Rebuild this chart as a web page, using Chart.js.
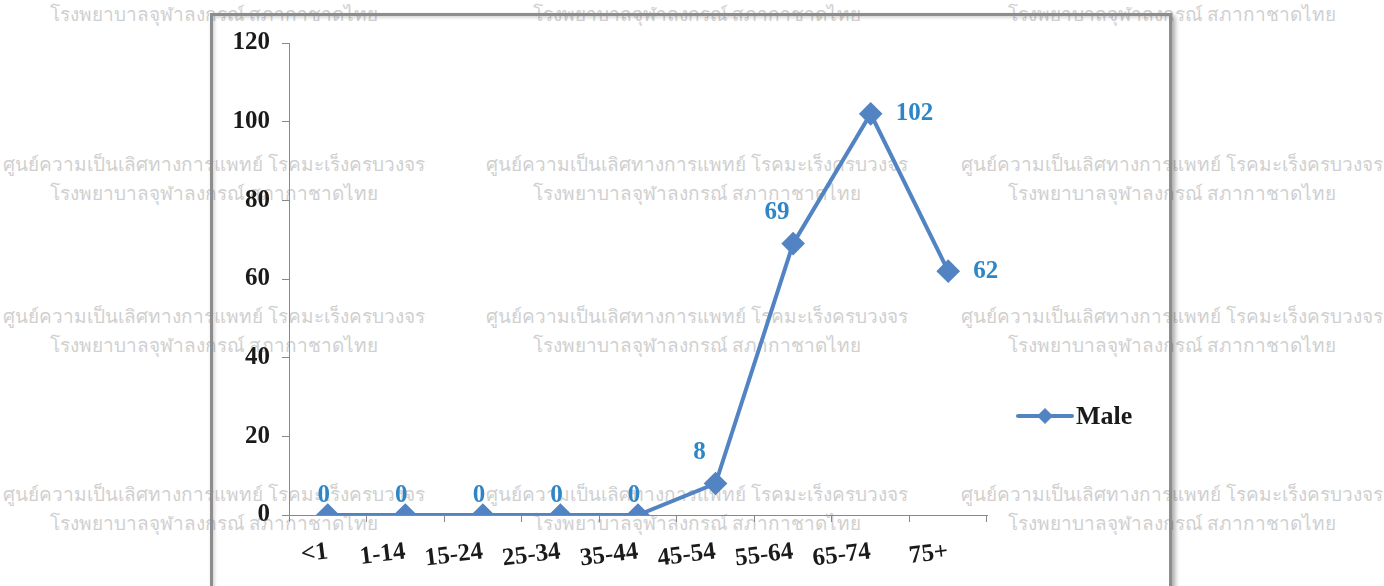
<!DOCTYPE html>
<html lang="th">
<head>
  <meta charset="UTF-8" />
  <title>Male by age group</title>
  <script src="https://cdn.jsdelivr.net/npm/chart.js"></script>
  <style>
    html, body { margin: 0; padding: 0; background: #fff; }
    body { width: 1384px; height: 586px; position: relative; overflow: hidden; }
    .wm {
      position: absolute;
      transform: translateX(-50%);
      white-space: nowrap;
      color: #d0d0d0;
      font-family: "Noto Sans", "DejaVu Sans", sans-serif;
      font-size: 19px;
      line-height: 22px;
      z-index: 0;
    }
    .frame {
      position: absolute;
      left: 210px; top: 13px;
      width: 956px; height: 580px;
      border: 3px solid #8d8d8d;
      box-shadow: 3px 3px 5px rgba(0,0,0,0.35), inset 2px 2px 3px rgba(0,0,0,0.15);
      z-index: 1;
    }
    .chart-box {
      position: absolute;
      left: 211px; top: 14px;
      width: 960px; height: 567px;
      z-index: 2;
    }
  </style>
</head>
<body>
  <div id="wm"></div>
  <div class="frame"></div>
  <div class="chart-box">
    <canvas id="maleChart" width="960" height="567"></canvas>
  </div>

<script>
  // data
  const ageGroups = ['<1', '1-14', '15-24', '25-34', '35-44', '45-54', '55-64', '65-74', '75+'];
  const maleCounts = [0, 0, 0, 0, 0, 8, 69, 102, 62];
  const yTicks = [0, 20, 40, 60, 80, 100, 120];
  // where each value label sits relative to its point
  const labelPlace = ['top', 'top', 'top', 'top', 'top', 'topleft', 'topleft', 'right', 'right'];

  const wmLine1 = 'ศูนย์ความเป็นเลิศทางการแพทย์ โรคมะเร็งครบวงจร';
  const wmLine2 = 'โรงพยาบาลจุฬาลงกรณ์ สภากาชาดไทย';

  // watermark grid
  const wm = document.getElementById('wm');
  const cols = [214, 697, 1172];
  const rows = [[wmLine2, 3], [wmLine1, 153], [wmLine2, 182], [wmLine1, 305], [wmLine2, 334], [wmLine1, 483], [wmLine2, 512]];
  rows.forEach(([txt, top]) => {
    cols.forEach(cx => {
      const d = document.createElement('div');
      d.className = 'wm';
      d.style.left = cx + 'px';
      d.style.top = top + 'px';
      d.textContent = txt;
      wm.appendChild(d);
    });
  });

  const lineBlue = '#5283c2';
  const labelBlue = '#2e86c6';
  const serif = '"Liberation Serif", "Times New Roman", serif';

  // value labels next to the points
  const valueLabels = {
    id: 'valueLabels',
    afterDatasetsDraw(chart) {
      const ctx = chart.ctx;
      const meta = chart.getDatasetMeta(0);
      ctx.save();
      ctx.font = 'bold 25px ' + serif;
      ctx.fillStyle = labelBlue;
      ctx.textBaseline = 'middle';
      meta.data.forEach((pt, i) => {
        let x = pt.x, y = pt.y;
        const place = labelPlace[i];
        if (place === 'top') { ctx.textAlign = 'center'; x -= 4; y -= 19; }
        else if (place === 'topleft') { ctx.textAlign = 'center'; x -= 16; y -= 31; }
        else { ctx.textAlign = 'left'; x += 25; }
        ctx.fillText(String(maleCounts[i]), x, y);
      });
      ctx.restore();
    }
  };

  // legend on the right, like the original
  const sideLegend = {
    id: 'sideLegend',
    afterDraw(chart) {
      const ctx = chart.ctx;
      const x0 = 807, y0 = 402;
      ctx.save();
      ctx.strokeStyle = lineBlue;
      ctx.lineWidth = 4;
      ctx.lineCap = 'round';
      ctx.beginPath();
      ctx.moveTo(x0, y0);
      ctx.lineTo(x0 + 54, y0);
      ctx.stroke();
      ctx.fillStyle = lineBlue;
      ctx.beginPath();
      const cx = x0 + 27, r = 8;
      ctx.moveTo(cx, y0 - r);
      ctx.lineTo(cx + r, y0);
      ctx.lineTo(cx, y0 + r);
      ctx.lineTo(cx - r, y0);
      ctx.closePath();
      ctx.fill();
      ctx.font = 'bold 26px ' + serif;
      ctx.fillStyle = '#1a1a1a';
      ctx.textBaseline = 'middle';
      ctx.textAlign = 'left';
      ctx.fillText('Male', x0 + 58, y0 + 1);
      ctx.restore();
    }
  };

  const ctx = document.getElementById('maleChart').getContext('2d');
  const maleChart = new Chart(ctx, {
    type: 'line',
    data: {
      labels: ageGroups,
      datasets: [{
        label: 'Male',
        data: maleCounts,
        borderColor: lineBlue,
        backgroundColor: lineBlue,
        borderWidth: 4,
        pointStyle: 'rectRot',
        pointRadius: 9,
        pointHoverRadius: 9,
        pointBackgroundColor: lineBlue,
        pointBorderColor: lineBlue,
        tension: 0,
        fill: false
      }]
    },
    options: {
      responsive: false,
      animation: false,
      layout: {
        autoPadding: false,
        padding: { top: 29, right: 184, bottom: 0, left: 0 }
      },
      plugins: {
        legend: { display: false },
        tooltip: { enabled: false }
      },
      scales: {
        x: {
          type: 'category',
          offset: true,
          grid: { display: true, drawOnChartArea: false, drawTicks: true, tickLength: 7, color: '#888', offset: true },
          border: { display: true, color: '#888', width: 1 },
          ticks: {
            color: '#1a1a1a',
            font: { family: serif, size: 25, weight: 'bold' },
            minRotation: 7,
            maxRotation: 7,
            autoSkip: false,
            padding: 15
          },
          afterFit(scale) { scale.height = 66; }
        },
        y: {
          min: 0,
          max: 120,
          afterBuildTicks(scale) { scale.ticks = yTicks.map(v => ({ value: v })); },
          grid: { display: true, drawOnChartArea: false, drawTicks: true, tickLength: 7, color: '#888' },
          border: { display: true, color: '#888', width: 1 },
          ticks: {
            color: '#1a1a1a',
            font: { family: serif, size: 25, weight: 'bold' },
            padding: 12
          },
          afterFit(scale) { scale.width = 78; }
        }
      }
    },
    plugins: [valueLabels, sideLegend]
  });
</script>
</body>
</html>
